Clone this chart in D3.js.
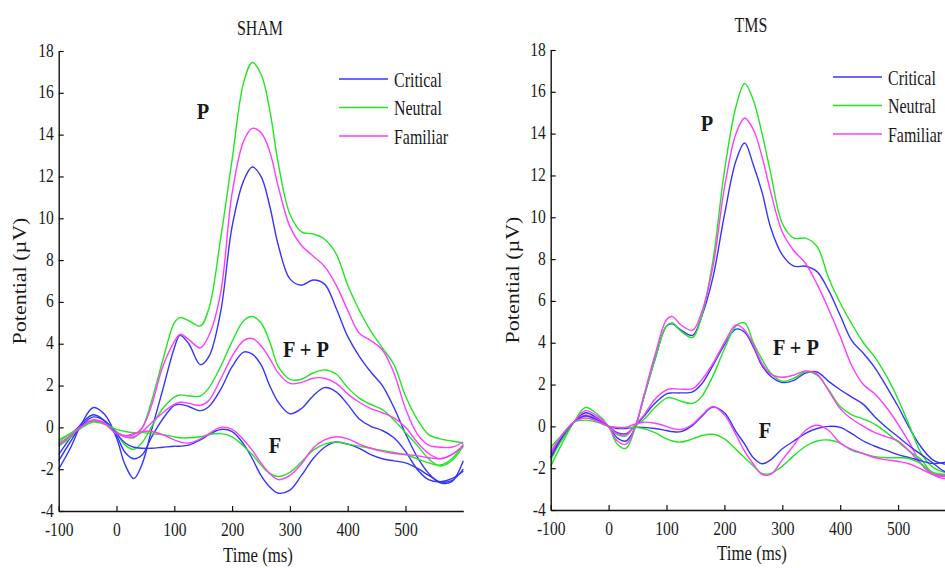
<!DOCTYPE html>
<html>
<head>
<meta charset="utf-8">
<script src="https://cdn.jsdelivr.net/npm/d3@7"></script>
<style>
body { margin: 0; background: #fff; }
text { font-family: "Liberation Serif", "Times New Roman", serif; fill: #1a1a1a; }
</style>
</head>
<body>
<div id="chart"></div>
<script>
// sample times (ms), shared by every curve
var times = [-100, -80, -60, -40, -20, 0, 15, 30, 45, 60, 80, 100, 110, 125, 145, 160, 180, 200, 220, 235,
    250, 265, 280, 300, 320, 340, 360, 380, 400, 420, 440, 460, 480, 500, 520, 540, 560, 580, 600];

var conditionNames = ["Critical", "Neutral", "Familiar"];
var conditionColors = ["#3535ff", "#22e622", "#ff3cff"];
var groupLabels = ["P", "F + P", "F"];
var xTickValues = [-100, 0, 100, 200, 300, 400, 500];
var yTickValues = [-4, -2, 0, 2, 4, 6, 8, 10, 12, 14, 16, 18];

// SHAM
var shamPCritical = [-2.0, -1.0, 0.2, 0.95, 0.6, -0.5, -1.8, -2.45, -1.7, -0.2, 1.8, 3.8, 4.4, 4.0, 3.0, 3.4, 5.5, 9.6, 11.8, 12.45,
    12.0, 10.6, 8.7, 7.1, 6.8, 7.05, 6.85, 5.7, 4.35, 3.4, 2.65, 2.0, 0.95, -0.3, -1.4, -2.2, -2.65, -2.6, -1.6];
var shamPNeutral = [-0.7, -0.3, 0.1, 0.3, 0.2, -0.2, -0.45, -0.5, 0.0, 1.2, 3.2, 5.0, 5.25, 5.1, 4.85, 5.7, 9.0, 12.8, 16.5, 17.45,
    16.9, 15.2, 12.6, 10.2, 9.35, 9.25, 9.0, 8.3, 6.8, 5.6, 4.6, 3.8, 3.0, 1.5, 0.4, -0.35, -0.55, -0.65, -0.75];
var shamPFamiliar = [-0.9, -0.4, 0.1, 0.3, 0.2, -0.25, -0.4, -0.35, 0.0, 1.0, 2.9, 4.1, 4.45, 4.2, 3.8, 4.4, 6.4, 11.2, 13.7, 14.3,
    14.1, 13.2, 11.5, 9.6, 8.7, 8.2, 7.7, 6.8, 5.6, 4.5, 4.15, 3.7, 2.6, 0.9, -0.3, -0.85, -0.95, -0.95, -0.7];

var shamFPCritical = [-1.3, -0.5, 0.2, 0.6, 0.3, -0.4, -1.2, -1.5, -1.3, -0.5, 0.4, 1.05, 1.1, 1.0, 0.8, 1.0, 1.8, 2.9, 3.6, 3.5,
    3.0, 2.0, 1.2, 0.65, 0.9, 1.5, 1.9, 1.7, 1.1, 0.4, 0.05, -0.15, -0.5, -1.15, -2.0, -2.5, -2.6, -2.45, -2.1];
var shamFPNeutral = [-0.9, -0.5, 0.0, 0.3, 0.2, -0.3, -0.85, -1.05, -0.7, 0.0, 0.9, 1.45, 1.55, 1.5, 1.5, 1.9, 2.9, 4.1, 5.1, 5.3,
    5.0, 4.1, 2.9, 2.3, 2.3, 2.6, 2.75, 2.55, 1.9, 1.4, 1.1, 0.85, 0.35, -0.25, -0.85, -1.5, -1.85, -1.6, -0.9];
var shamFPFamiliar = [-0.8, -0.4, 0.1, 0.35, 0.2, -0.25, -0.45, -0.45, -0.2, 0.2, 0.7, 1.1, 1.2, 1.15, 1.05, 1.3, 2.3, 3.4, 4.15, 4.25,
    3.9, 3.3, 2.6, 2.1, 2.15, 2.35, 2.35, 2.1, 1.6, 1.2, 0.9, 0.7, 0.45, 0.0, -0.7, -1.25, -1.5, -1.3, -0.9];

var shamFCritical = [-1.6, -0.7, 0.1, 0.5, 0.3, -0.3, -0.75, -0.95, -1.0, -1.0, -0.95, -0.9, -0.9, -0.85, -0.6, -0.35, -0.1, -0.2, -0.8, -1.5,
    -2.3, -2.85, -3.15, -3.0, -2.3, -1.5, -0.95, -0.7, -0.8, -1.0, -1.3, -1.5, -1.6, -1.7, -1.95, -2.3, -2.6, -2.55, -2.0];
var shamFNeutral = [-0.6, -0.3, 0.0, 0.25, 0.15, -0.1, -0.2, -0.25, -0.25, -0.3, -0.35, -0.45, -0.5, -0.5, -0.45, -0.35, -0.3, -0.45, -0.9, -1.3,
    -1.8, -2.2, -2.35, -2.15, -1.65, -1.1, -0.8, -0.7, -0.8, -0.9, -1.0, -1.1, -1.2, -1.3, -1.5, -1.7, -1.8, -1.5, -0.8];
var shamFFamiliar = [-0.8, -0.4, 0.05, 0.35, 0.15, -0.3, -0.4, -0.3, -0.2, -0.2, -0.35, -0.6, -0.7, -0.75, -0.55, -0.3, 0.0, -0.1, -0.6, -1.1,
    -1.7, -2.2, -2.5, -2.3, -1.75, -1.0, -0.6, -0.45, -0.55, -0.8, -1.0, -1.15, -1.25, -1.3, -1.35, -1.45, -1.5, -1.3, -0.85];

// TMS
var tmsPCritical = [-1.5, -0.6, 0.2, 0.65, 0.4, 0.0, -0.55, -0.7, -0.1, 1.3, 3.2, 4.8, 4.9, 4.6, 4.35, 5.2, 7.1, 10.1, 12.7, 13.55,
    12.5, 11.2, 9.5, 8.2, 7.66, 7.66, 7.4, 6.5, 5.3, 4.1, 3.5, 2.8, 1.9, 0.95, -0.1, -1.0, -1.6, -1.8, -1.85];
var tmsPNeutral = [-1.9, -0.8, 0.2, 0.9, 0.6, 0.0, -0.85, -1.05, -0.15, 1.3, 3.2, 4.8, 4.95, 4.55, 4.25, 5.2, 7.9, 12.2, 15.3, 16.4,
    15.6, 14.0, 12.1, 9.7, 9.0, 9.0, 8.6, 7.1, 5.9, 4.9, 4.0, 3.3, 2.4, 1.3, 0.0, -1.3, -1.95, -2.2, -2.3];
var tmsPFamiliar = [-1.4, -0.5, 0.2, 0.75, 0.5, 0.0, -0.7, -0.85, -0.1, 1.4, 3.4, 5.1, 5.25, 4.85, 4.6, 5.4, 7.6, 11.4, 14.0, 14.75,
    14.2, 12.9, 11.2, 9.3, 8.4, 7.8, 6.8, 5.6, 4.3, 2.9, 2.0, 1.55, 0.9, 0.1, -0.8, -1.8, -2.3, -2.5, -2.4];

var tmsFPCritical = [-1.3, -0.5, 0.2, 0.5, 0.3, 0.0, -0.3, -0.35, 0.0, 0.45, 1.1, 1.55, 1.6, 1.6, 1.65, 2.0, 2.9, 3.9, 4.65, 4.5,
    3.8, 2.9, 2.4, 2.1, 2.2, 2.55, 2.6, 2.15, 1.75, 1.4, 1.05, 0.45, -0.05, -0.5, -0.95, -1.35, -1.75, -2.15, -2.2];
var tmsFPNeutral = [-1.6, -0.6, 0.2, 0.5, 0.3, 0.0, -0.4, -0.45, 0.0, 0.3, 0.9, 1.35, 1.35, 1.2, 1.1, 1.4, 2.4, 3.7, 4.8, 4.95,
    4.0, 3.2, 2.55, 2.15, 2.3, 2.6, 2.45, 1.75, 0.95, 0.55, 0.35, 0.1, -0.3, -0.75, -1.2, -1.6, -2.25, -2.3, -2.2];
var tmsFPFamiliar = [-1.2, -0.4, 0.2, 0.55, 0.35, 0.0, -0.35, -0.4, 0.05, 0.5, 1.3, 1.75, 1.8, 1.78, 1.8, 2.2, 3.0, 4.0, 4.85, 4.6,
    3.9, 3.0, 2.5, 2.35, 2.45, 2.65, 2.5, 1.7, 0.85, 0.35, 0.0, -0.3, -0.5, -0.7, -1.2, -1.8, -2.3, -2.4, -2.3];

var tmsFCritical = [-1.5, -0.5, 0.2, 0.5, 0.3, 0.0, -0.1, -0.1, -0.05, -0.05, -0.1, -0.2, -0.25, -0.25, 0.05, 0.45, 0.92, 0.65, -0.25, -0.85,
    -1.5, -1.79, -1.6, -1.07, -0.7, -0.33, -0.1, 0.0, -0.05, -0.35, -0.7, -0.95, -1.15, -1.35, -1.5, -1.65, -1.78, -1.72, -1.75];
var tmsFNeutral = [-1.0, -0.4, 0.2, 0.3, 0.2, 0.0, -0.05, -0.05, -0.05, -0.1, -0.3, -0.6, -0.7, -0.75, -0.6, -0.45, -0.38, -0.6, -1.1, -1.5,
    -1.9, -2.25, -2.25, -1.9, -1.4, -0.95, -0.7, -0.65, -0.8, -1.15, -1.3, -1.45, -1.5, -1.5, -1.55, -1.8, -2.2, -2.3, -2.3];
var tmsFFamiliar = [-1.3, -0.4, 0.2, 0.4, 0.25, 0.0, -0.05, -0.05, 0.1, 0.2, 0.15, 0.0, -0.1, -0.15, 0.1, 0.5, 0.95, 0.55, -0.4, -1.2,
    -1.8, -2.3, -2.3, -1.6, -0.9, -0.2, 0.05, -0.2, -0.8, -1.1, -1.3, -1.5, -1.6, -1.68, -1.8, -2.05, -2.3, -2.35, -2.3];

var panels = [
    {
        title: "SHAM",
        left: 58.7, right: 463.3, top: 51, bottom: 511,
        groups: [
            [shamPCritical, shamPNeutral, shamPFamiliar],
            [shamFPCritical, shamFPNeutral, shamFPFamiliar],
            [shamFCritical, shamFNeutral, shamFFamiliar]
        ],
        titlePos: [260, 35],
        yLabelPos: [26, 281],
        xLabelPos: [258, 562],
        legendPos: [339, 79],
        labelPos: [[203, 119], [306, 357], [275, 453]]
    },
    {
        title: "TMS",
        left: 550.7, right: 956, top: 50, bottom: 510,
        groups: [
            [tmsPCritical, tmsPNeutral, tmsPFamiliar],
            [tmsFPCritical, tmsFPNeutral, tmsFPFamiliar],
            [tmsFCritical, tmsFNeutral, tmsFFamiliar]
        ],
        titlePos: [751, 32],
        yLabelPos: [519, 280],
        xLabelPos: [752, 560],
        legendPos: [833, 77],
        labelPos: [[707, 131], [796, 355], [765, 438]]
    }
];

var svg = d3.select("#chart").append("svg")
    .attr("width", 945)
    .attr("height", 568);

function addText(parent, str, x, y, size, squeeze, anchor, weight) {
    return parent.append("text")
        .attr("transform", "translate(" + x + "," + y + ") scale(" + squeeze + ",1)")
        .attr("text-anchor", anchor || "middle")
        .style("font-size", size + "px")
        .style("font-weight", weight || "normal")
        .text(str);
}

function drawPanel(panel) {

    var g = svg.append("g");

    var x = d3.scaleLinear().domain([-100, 600]).range([panel.left, panel.right]);
    var y = d3.scaleLinear().domain([-4, 18]).range([panel.bottom, panel.top]);

    var line = d3.line()
        .x(function (d) { return x(d[0]); })
        .y(function (d) { return y(d[1]); })
        .curve(d3.curveCatmullRom.alpha(0.5));

    // curves
    panel.groups.forEach(function (group) {
        group.forEach(function (values, c) {
            g.append("path")
                .attr("d", line(times.map(function (t, i) { return [t, values[i]]; })))
                .attr("fill", "none")
                .attr("stroke", conditionColors[c])
                .attr("stroke-width", 1.4);
        });
    });

    // x axis, ticks pointing inward
    var xAxis = d3.axisBottom(x)
        .tickValues(xTickValues)
        .tickSizeInner(-5)
        .tickSizeOuter(0)
        .tickFormat(function (d) { return String(d); });
    var gx = g.append("g")
        .attr("transform", "translate(0," + panel.bottom + ")")
        .call(xAxis)
        .attr("font-family", null)
        .attr("font-size", null);
    gx.select(".domain").attr("stroke", "#111").attr("stroke-width", 1.4);
    gx.selectAll(".tick line").attr("stroke", "#111").attr("stroke-width", 1.2);
    gx.selectAll(".tick text")
        .attr("y", null)
        .attr("dy", null)
        .attr("fill", null)
        .attr("transform", "translate(0,24.5) scale(0.82,1)")
        .style("font-size", "19px");

    // y axis
    var yAxis = d3.axisLeft(y)
        .tickValues(yTickValues)
        .tickSizeInner(-5)
        .tickSizeOuter(0)
        .tickFormat(function (d) { return String(d); });
    var gy = g.append("g")
        .attr("transform", "translate(" + panel.left + ",0)")
        .call(yAxis)
        .attr("font-family", null)
        .attr("font-size", null);
    gy.select(".domain").attr("stroke", "#111").attr("stroke-width", 1.4);
    gy.selectAll(".tick line").attr("stroke", "#111").attr("stroke-width", 1.2);
    gy.selectAll(".tick text")
        .attr("x", null)
        .attr("dy", null)
        .attr("fill", null)
        .attr("text-anchor", "end")
        .attr("transform", "translate(-5,5) scale(0.82,1)")
        .style("font-size", "19px");

    // titles and axis labels
    addText(g, panel.title, panel.titlePos[0], panel.titlePos[1], 21, 0.76);
    addText(g, "Time (ms)", panel.xLabelPos[0], panel.xLabelPos[1], 21, 0.8);
    g.append("text")
        .attr("transform", "translate(" + panel.yLabelPos[0] + "," + panel.yLabelPos[1] + ") scale(0.85,1) rotate(-90)")
        .attr("text-anchor", "middle")
        .style("font-size", "22px")
        .text("Potential (\u00b5V)");

    // group labels
    groupLabels.forEach(function (lab, i) {
        addText(g, lab, panel.labelPos[i][0], panel.labelPos[i][1], 24, 0.85, "middle", "bold");
    });

    // legend
    conditionNames.forEach(function (name, c) {
        var ly = panel.legendPos[1] + c * 28.5;
        g.append("line")
            .attr("x1", panel.legendPos[0])
            .attr("x2", panel.legendPos[0] + 49)
            .attr("y1", ly)
            .attr("y2", ly)
            .attr("stroke", conditionColors[c])
            .attr("stroke-width", 1.4);
        addText(g, name, panel.legendPos[0] + 55, ly + 7.5, 21, 0.76, "start");
    });
}

panels.forEach(drawPanel);
</script>
</body>
</html>
